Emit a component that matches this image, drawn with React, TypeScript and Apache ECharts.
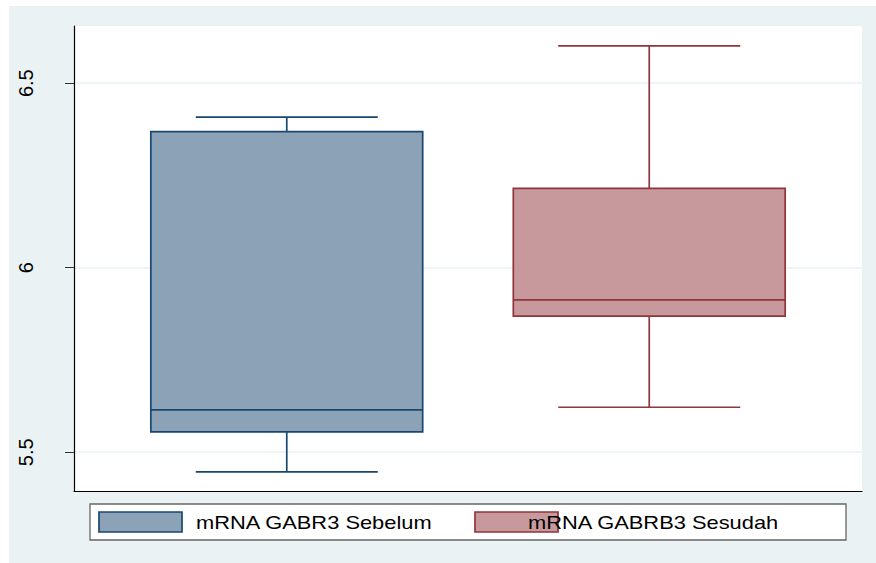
import React, { useEffect, useRef } from 'react';
import * as echarts from 'echarts';

// ---- data ----
const groups = ['mRNA GABR3 Sebelum', 'mRNA GABRB3 Sesudah'];
const positions = [0.27, 0.73];
const minValues = [5.447, 5.622];
const q1Values = [5.555, 5.869];
const medianValues = [5.615, 5.913];
const q3Values = [6.369, 6.215];
const maxValues = [6.408, 6.601];
const yTicks = [5.5, 6, 6.5];

// ---- styles ----
const lineColors = ['#1a476f', '#90353b'];
const fillColors = ['#8ca3b7', '#c8999c'];
const BOX_W = 0.345;
const CAP_W = 0.231;
const LW = 1.7;

function makeRenderItem(idx: number) {
  return (params: any, api: any) => {
    const x = api.value(0);
    const pMin = api.coord([x, api.value(1)]);
    const pQ1 = api.coord([x, api.value(2)]);
    const pMed = api.coord([x, api.value(3)]);
    const pQ3 = api.coord([x, api.value(4)]);
    const pMax = api.coord([x, api.value(5)]);
    const halfBox = api.size([BOX_W, 0])[0] / 2;
    const halfCap = api.size([CAP_W, 0])[0] / 2;
    const cx = pMed[0];
    const stroke = lineColors[idx];
    const lineStyle = { stroke, lineWidth: LW };
    return {
      type: 'group',
      children: [
        { type: 'line', shape: { x1: cx, y1: pQ3[1], x2: cx, y2: pMax[1] }, style: lineStyle },
        { type: 'line', shape: { x1: cx, y1: pQ1[1], x2: cx, y2: pMin[1] }, style: lineStyle },
        { type: 'line', shape: { x1: cx - halfCap, y1: pMax[1], x2: cx + halfCap, y2: pMax[1] }, style: lineStyle },
        { type: 'line', shape: { x1: cx - halfCap, y1: pMin[1], x2: cx + halfCap, y2: pMin[1] }, style: lineStyle },
        {
          type: 'rect',
          shape: { x: cx - halfBox, y: pQ3[1], width: halfBox * 2, height: pQ1[1] - pQ3[1] },
          style: { fill: fillColors[idx], stroke, lineWidth: LW },
        },
        { type: 'line', shape: { x1: cx - halfBox, y1: pMed[1], x2: cx + halfBox, y2: pMed[1] }, style: lineStyle },
      ],
    };
  };
}

export default function App() {
  const ref = useRef<HTMLDivElement>(null);
  useEffect(() => {
    if (!ref.current) return;
    const chart = echarts.init(ref.current, undefined, { renderer: 'svg' });
    const series = groups.map((name, i) => ({
      type: 'custom',
      name,
      renderItem: makeRenderItem(i),
      data: [[positions[i], minValues[i], q1Values[i], medianValues[i], q3Values[i], maxValues[i]]],
      encode: { x: 0, y: [1, 2, 3, 4, 5] },
      silent: true,
    }));
    const swatchX = [99, 475];
    const textX = [196, 528];
    const legendChildren: any[] = [
      {
        type: 'rect',
        shape: { x: 90, y: 504, width: 756, height: 36 },
        style: { fill: '#fff', stroke: '#666', lineWidth: 1.3 },
      },
    ];
    groups.forEach((name, i) => {
      legendChildren.push({
        type: 'rect',
        shape: { x: swatchX[i], y: 512, width: 83, height: 20 },
        style: { fill: fillColors[i], stroke: lineColors[i], lineWidth: LW },
      });
    });
    groups.forEach((name, i) => {
      legendChildren.push({
        type: 'text',
        x: textX[i],
        y: 523,
        scaleX: 1.215,
        style: {
          text: name,
          font: '18px "Liberation Sans", Arial, sans-serif',
          fill: '#000',
          verticalAlign: 'middle',
          align: 'left',
        },
      });
    });
    chart.setOption({
      animation: false,
      backgroundColor: '#fff',
      graphic: [
        {
          type: 'rect',
          z: -100,
          silent: true,
          shape: { x: 9, y: 6, width: 867, height: 557 },
          style: { fill: '#eaf2f3' },
        },
        { type: 'group', z: 10, children: legendChildren },
      ],
      grid: {
        left: 74,
        right: 14,
        top: 26,
        bottom: 72,
        show: true,
        backgroundColor: '#fff',
        borderWidth: 0,
      },
      xAxis: {
        type: 'value',
        min: 0,
        max: 1,
        axisLine: { show: true, onZero: false, lineStyle: { color: '#000', width: 1.2 } },
        axisTick: { show: false },
        axisLabel: { show: false },
        splitLine: { show: false },
      },
      yAxis: {
        type: 'value',
        min: 5.395,
        max: 6.655,
        axisLine: { show: true, lineStyle: { color: '#000', width: 1.2 } },
        axisTick: { show: true, length: 9, customValues: yTicks, lineStyle: { color: '#333', width: 1 } },
        axisLabel: {
          customValues: yTicks,
          rotate: 90,
          margin: 38,
          fontSize: 20,
          fontFamily: '"Liberation Sans", Arial, sans-serif',
          color: '#000',
          formatter: (v: number) => String(v),
        },
        splitLine: { show: true, lineStyle: { color: '#eaf2f3', width: 1.5 } },
      },
      series,
    });
    return () => chart.dispose();
  }, []);
  return (
    <div
      ref={ref}
      style={{ position: 'fixed', left: 0, top: 0, width: 876, height: 563 }}
    />
  );
}
